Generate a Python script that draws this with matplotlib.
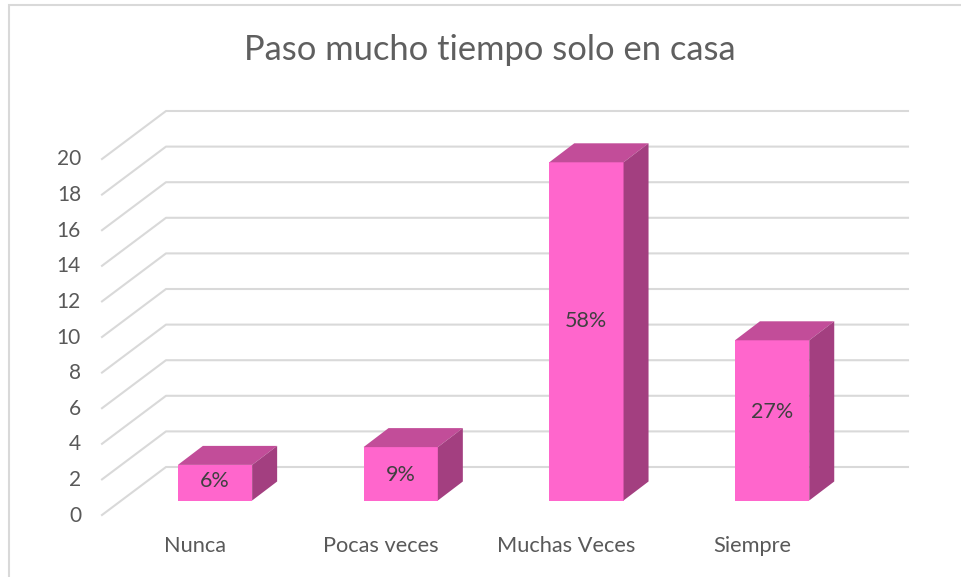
import matplotlib
matplotlib.use("Agg")
from matplotlib import pyplot as plt
from matplotlib.patches import Polygon

categorias = ["Nunca", "Pocas veces", "Muchas Veces", "Siempre"]
valores = [2, 3, 19, 9]
porcentajes = ["6%", "9%", "58%", "27%"]
ticks = [0, 2, 4, 6, 8, 10, 12, 14, 16, 18, 20]
titulo = "Paso mucho tiempo solo en casa"

plt.rcParams['font.family'] = ['Lato', 'DejaVu Sans']

W, H = 962, 577
X0, DX = 215.0, 185.7   # pixel of first bar centre, pixels per category
Y0, DY = 500.5, 17.8    # pixel of value 0 on the bar plane, pixels per unit

fig = plt.figure(figsize=(W / 100, H / 100), dpi=100)
ax = fig.add_axes([0, 0, 1, 1])
ax.set_xlim((0 - X0) / DX, (W - X0) / DX)
ax.set_ylim((Y0 - H) / DY, Y0 / DY)
ax.axis("off")

# depth offsets, in data units
bar_w = 0.2
bar_dx = 25 / DX
bar_dy = 19 / DY
back_dy = 33.5 / DY
front_dy = -14.5 / DY
left_front = (102 - X0) / DX
left_back = (166 - X0) / DX
right_end = (908 - X0) / DX

# chart frame
ax.plot([(9 - X0) / DX, (9 - X0) / DX, (W - X0) / DX],
        [(Y0 - H) / DY, (Y0 - 5) / DY, (Y0 - 5) / DY],
        color="#D9D9D9", lw=1.5, zorder=1, solid_joinstyle="miter")

# floor and wall lines
for t in ticks:
    ax.plot([left_front, left_back, right_end],
            [t + front_dy, t + back_dy, t + back_dy],
            color="#D9D9D9", lw=1.5, zorder=1)
    ax.text((81 - X0) / DX, t - 15 / DY, str(t), ha="right", va="center",
            fontsize=15, color="#595959")

# bars
etiqueta_y = [1.1, 1.44, 10.1, 4.98]
for i, v in enumerate(valores):
    l, r = i - bar_w, i + bar_w
    ax.add_patch(Polygon([(l, 0), (r, 0), (r, v), (l, v)],
                         fc="#FF66CC", ec="none", zorder=3))
    ax.add_patch(Polygon([(l, v), (r, v), (r + bar_dx, v + bar_dy), (l + bar_dx, v + bar_dy)],
                         fc="#C24D99", ec="none", zorder=3))
    ax.add_patch(Polygon([(r, 0), (r + bar_dx, bar_dy), (r + bar_dx, v + bar_dy), (r, v)],
                         fc="#A33F80", ec="none", zorder=3))
    ax.text(i, etiqueta_y[i], porcentajes[i], ha="center", va="center",
            fontsize=15.5, color="#404040", zorder=4)
    ax.text(i - 20 / DX, (Y0 - 546.5) / DY, categorias[i], ha="center", va="center",
            fontsize=15.7, color="#595959")

ax.text((490 - X0) / DX, (Y0 - 50.5) / DY, titulo, ha="center", va="center",
        fontsize=24.8, color="#5F5F5F")

fig.savefig("out.png", dpi=100)
